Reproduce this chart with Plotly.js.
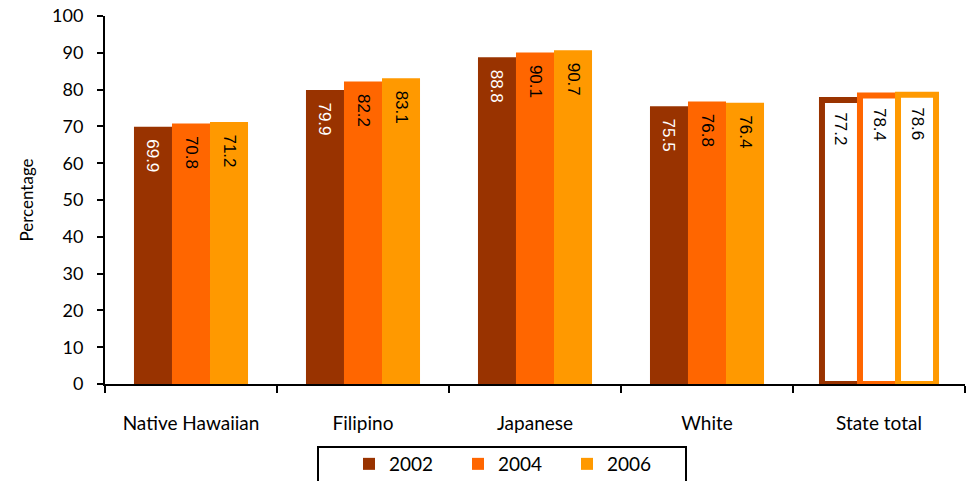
<!DOCTYPE html>
<html><head><meta charset="utf-8">
<script src="https://cdn.plot.ly/plotly-3.0.1.min.js"></script>
<style>html,body{margin:0;padding:0;background:#fff;overflow:hidden;width:966px;height:481px;}#chart{width:966px;height:490px;}</style>
</head><body><div id="chart"></div>
<script>
const categories = ["Native Hawaiian", "Filipino", "Japanese", "White", "State total"];
const years = ["2002", "2004", "2006"];
const v2002 = [69.9, 79.9, 88.8, 75.5, 77.2];
const v2004 = [70.8, 82.2, 90.1, 76.8, 78.4];
const v2006 = [71.2, 83.1, 90.7, 76.4, 78.6];
const yTicks = [0,10,20,30,40,50,60,70,80,90,100];

const colors = ["#993300", "#FF6600", "#FF9900"];
const series = [v2002, v2004, v2006];
const textColors = ["#ffffff", "#000000", "#000000"];
const pad = "\u00a0\u00a0";

const traces = series.map((vals, i) => {
  const n = vals.length;
  return {
    type: "bar",
    name: years[i],
    x: categories,
    y: vals,
    text: vals.map(v => pad + v.toFixed(1)),
    textposition: "inside",
    insidetextanchor: "end",
    textangle: 90,
    constraintext: "none",
    cliponaxis: false,
    textfont: {
      family: "Liberation Sans, Arial, sans-serif",
      size: 17,
      color: vals.map((v, j) => j === n - 1 ? "#000000" : textColors[i])
    },
    marker: {
      color: vals.map((v, j) => j === n - 1 ? "#ffffff" : colors[i]),
      line: {
        color: colors[i],
        width: vals.map((v, j) => j === n - 1 ? 6 : 0)
      }
    },
    hoverinfo: "skip"
  };
});

const plotH = 368;
const py = px => (384 - px) / plotH;
const pxX = px => (px - 105) / 860;

const layout = {
  width: 966, height: 490,
  margin: {l: 105, r: 1, t: 16, b: 106},
  paper_bgcolor: "#fff", plot_bgcolor: "#fff",
  barmode: "group",
  bargap: 0.337,
  bargroupgap: 0,
  showlegend: true,
  legend: {
    orientation: "h",
    x: pxX(349), xanchor: "left",
    y: py(464), yanchor: "middle",
    borderwidth: 0,
    bgcolor: "rgba(0,0,0,0)",
    font: {family: "Lato, sans-serif", size: 19, color: "#000"},
    entrywidth: 64,
    itemwidth: 30,
    traceorder: "normal"
  },
  shapes: [{
    type: "rect", xref: "paper", yref: "paper",
    x0: pxX(318), x1: pxX(686), y0: py(447), y1: py(489),
    line: {color: "#000", width: 2}, fillcolor: "rgba(0,0,0,0)"
  }],
  font: {family: "Lato, sans-serif", color: "#000"},
  xaxis: {
    type: "category",
    tickson: "boundaries",
    ticks: "outside", ticklen: 7, tickwidth: 2, tickcolor: "#000",
    showline: true, linecolor: "#000", linewidth: 2,
    showgrid: false, zeroline: false,
    tickfont: {family: "Lato, sans-serif", size: 19, color: "#000"},
    ticklabelstandoff: 21,
    fixedrange: true
  },
  yaxis: {
    range: [0, 100],
    tickvals: yTicks,
    ticktext: yTicks.map(String),
    ticks: "outside", ticklen: 6, tickwidth: 2, tickcolor: "#000",
    showline: true, linecolor: "#000", linewidth: 2,
    showgrid: false, zeroline: false,
    tickfont: {family: "Lato, sans-serif", size: 18, color: "#000"},
    ticklabelstandoff: 10,
    title: {text: "Percentage", font: {family: "Lato, sans-serif", size: 17, color: "#000"}, standoff: 14},
    fixedrange: true
  }
};

Plotly.newPlot("chart", traces, layout, {displayModeBar: false, staticPlot: true});
</script></body></html>
